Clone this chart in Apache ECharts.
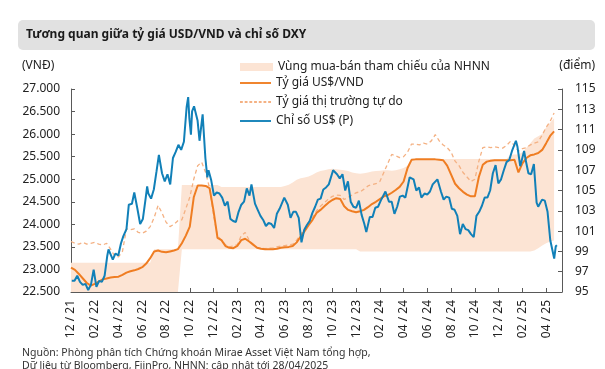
<!DOCTYPE html>
<html><head><meta charset="utf-8">
<script src="https://cdn.jsdelivr.net/npm/echarts@6/dist/echarts.min.js"></script>
<style>html,body{margin:0;padding:0;background:#fff}#c{width:605px;height:369px}</style>
</head><body><div id="c"></div>
<script>
// Categories: every ~10 days (1st, 11th, 21st) from 12/2021
const startYear = 2021, startMonth = 12, nCategories = 125;
const axisStart = '2021-12-01', axisEnd = '2025-05-11';
const tickLabelEvery = 6; // 2 months
// Official USD/VND rate (VND), one value per category
const usdVnd = [23040,22990,22900,22800,22700,22640,22680,22730,22780,22800,22820,22830,22840,22880,22930,22960,22980,23010,23050,23130,23250,23400,23420,23390,23380,23400,23420,23450,23580,23750,23950,24600,24860,24860,24850,24800,24300,23700,23650,23520,23480,23470,23520,23650,23680,23620,23550,23480,23460,23450,23450,23450,23460,23480,23490,23500,23520,23600,23730,23850,23980,24100,24250,24320,24400,24480,24540,24580,24560,24400,24320,24290,24270,24290,24320,24380,24450,24500,24560,24620,24650,24700,24760,24830,24950,25250,25430,25440,25440,25440,25440,25440,25440,25430,25420,25300,25100,24900,24800,24720,24660,24620,24620,25050,25320,25390,25410,25420,25420,25420,25420,25420,25430,25150,25350,25470,25530,25550,25580,25650,25800,25960,26060];
// Free market rate (VND), one value per category
const freeMarket = [23620,23580,23560,23600,23560,23580,23600,23560,23540,23580,23450,23300,23280,23400,23900,23880,23900,23820,23800,23850,23950,24150,24420,24250,24050,23950,24000,24080,24100,24350,24600,25000,25300,25380,25150,24800,24200,23750,23650,23550,23500,23520,23550,23750,23820,23650,23550,23480,23470,23460,23470,23480,23500,23520,23530,23540,23560,23650,23780,23900,24050,24150,24300,24400,24480,24560,24620,24650,24640,24550,24600,24650,24700,24720,24780,24850,24880,24900,24950,25150,25350,25550,25520,25480,25500,25600,25780,25780,25760,25800,25780,25850,25990,25850,25760,25700,25600,25400,25300,25150,25050,24950,25000,25400,25700,25720,25700,25720,25700,25690,25750,25840,25750,25620,25680,25700,25760,25800,25830,25980,26150,26280,26470];
// SBV reference band (VND), one value per category
const bandLower = [22500,22500,22500,22500,22500,22500,22500,22500,22500,22500,22500,22500,22500,22500,22500,22500,22500,22500,22500,22500,22500,22500,22500,22500,22500,22500,22500,22500,23450,23450,23450,23450,23450,23450,23450,23450,23450,23450,23450,23450,23450,23450,23450,23450,23450,23450,23450,23450,23450,23450,23450,23450,23450,23450,23450,23450,23450,23450,23450,23450,23450,23450,23450,23450,23450,23450,23450,23450,23450,23450,23450,23450,23450,23400,23400,23400,23400,23400,23400,23400,23400,23400,23400,23400,23400,23400,23400,23400,23400,23400,23400,23400,23400,23400,23400,23400,23400,23400,23400,23400,23400,23400,23400,23400,23400,23400,23400,23400,23400,23400,23400,23400,23400,23400,23400,23400,23400,23420,23470,23530,23580,23620,23640,23660];
const bandUpper = [23150,23150,23150,23150,23150,23150,23150,23150,23150,23150,23150,23150,23150,23150,23150,23150,23150,23150,23150,23150,23150,23450,23450,23450,23450,23450,23450,23450,24870,24870,24870,24870,24870,24870,24870,24870,24870,24870,24830,24830,24830,24830,24830,24830,24830,24830,24830,24830,24830,24830,24830,24830,24830,24830,24850,24880,24930,24990,25020,25040,25060,25100,25150,25180,25200,25220,25230,25220,25210,25200,25180,25150,25130,25120,25130,25150,25170,25180,25190,25200,25200,25190,25200,25220,25250,25300,25450,25450,25450,25450,25450,25450,25450,25450,25450,25450,25450,25450,25450,25450,25450,25450,25450,25450,25450,25450,25450,25450,25450,25450,25450,25550,25550,25550,25600,25700,25800,25900,25950,26000,26150,26250,26350];
// DXY index (points), dated observations
const dxyDates = ['2021-12-03','2021-12-10','2021-12-17','2021-12-24','2021-12-31','2022-01-07','2022-01-14','2022-01-21','2022-01-28','2022-02-04','2022-02-11','2022-02-18','2022-02-25','2022-03-04','2022-03-07','2022-03-11','2022-03-18','2022-03-25','2022-04-01','2022-04-08','2022-04-14','2022-04-22','2022-04-28','2022-05-06','2022-05-12','2022-05-20','2022-05-27','2022-06-03','2022-06-10','2022-06-14','2022-06-17','2022-06-24','2022-07-01','2022-07-08','2022-07-14','2022-07-22','2022-07-29','2022-08-05','2022-08-12','2022-08-19','2022-08-26','2022-09-02','2022-09-09','2022-09-16','2022-09-23','2022-09-27','2022-09-30','2022-10-04','2022-10-07','2022-10-12','2022-10-21','2022-10-26','2022-11-03','2022-11-10','2022-11-15','2022-11-18','2022-11-25','2022-12-02','2022-12-09','2022-12-16','2022-12-23','2022-12-30','2023-01-06','2023-01-13','2023-01-20','2023-01-27','2023-02-03','2023-02-10','2023-02-17','2023-02-24','2023-03-03','2023-03-08','2023-03-17','2023-03-24','2023-03-31','2023-04-07','2023-04-14','2023-04-21','2023-04-28','2023-05-05','2023-05-12','2023-05-19','2023-05-31','2023-06-09','2023-06-16','2023-06-23','2023-06-30','2023-07-07','2023-07-14','2023-07-21','2023-07-28','2023-08-04','2023-08-11','2023-08-18','2023-08-25','2023-09-01','2023-09-08','2023-09-15','2023-09-22','2023-10-03','2023-10-13','2023-10-20','2023-10-27','2023-11-03','2023-11-10','2023-11-17','2023-11-24','2023-12-01','2023-12-08','2023-12-15','2023-12-22','2023-12-27','2024-01-05','2024-01-12','2024-01-19','2024-01-26','2024-02-02','2024-02-14','2024-02-23','2024-03-01','2024-03-08','2024-03-15','2024-03-22','2024-03-29','2024-04-05','2024-04-16','2024-04-26','2024-05-03','2024-05-10','2024-05-16','2024-05-24','2024-05-31','2024-06-07','2024-06-14','2024-06-26','2024-07-05','2024-07-12','2024-07-19','2024-07-26','2024-08-02','2024-08-09','2024-08-16','2024-08-23','2024-08-30','2024-09-06','2024-09-13','2024-09-20','2024-09-27','2024-10-04','2024-10-11','2024-10-18','2024-10-25','2024-11-01','2024-11-08','2024-11-15','2024-11-22','2024-11-29','2024-12-06','2024-12-13','2024-12-20','2024-12-27','2025-01-03','2025-01-13','2025-01-17','2025-01-24','2025-02-03','2025-02-07','2025-02-14','2025-02-21','2025-02-28','2025-03-07','2025-03-11','2025-03-21','2025-03-28','2025-04-04','2025-04-11','2025-04-21','2025-04-25','2025-04-28'];
const dxyValues = [96.1,96.1,96.6,96.0,95.7,95.8,95.2,95.7,97.2,95.5,96.1,96.0,96.6,98.6,99.2,99.1,98.2,98.8,98.6,99.8,100.5,101.2,103.6,103.7,104.8,103.2,101.7,102.2,104.2,105.4,104.7,104.2,105.1,106.9,108.5,106.7,105.9,106.6,105.6,108.2,108.8,109.5,109.0,109.8,113.2,114.2,112.1,110.5,112.8,113.3,111.9,109.9,112.5,108.2,106.3,107.0,106.0,104.5,104.8,104.7,104.3,103.5,103.9,102.2,102.0,101.9,102.9,103.6,103.9,105.2,104.5,105.6,103.7,103.1,102.5,102.1,101.5,101.8,101.7,101.3,102.7,103.2,104.3,103.6,102.3,102.9,102.9,102.3,99.9,101.1,101.6,102.0,102.8,103.4,104.1,104.2,105.1,105.3,105.6,107.0,106.6,106.2,106.6,105.0,105.9,103.9,103.4,103.3,104.0,102.6,101.7,100.9,102.4,102.4,103.3,103.4,104.0,104.9,103.9,103.9,102.7,103.4,104.4,104.5,104.3,106.3,106.1,105.0,105.3,104.3,104.7,104.6,104.9,105.6,106.1,104.9,104.1,104.4,104.3,103.2,103.1,102.5,100.7,101.7,101.2,101.1,100.7,100.4,102.5,102.9,103.5,104.3,104.3,105.0,106.7,107.5,105.7,106.1,107.0,107.8,108.0,108.9,109.9,109.3,107.4,108.9,108.0,106.7,106.6,107.6,103.8,103.4,104.1,104.0,102.9,100.1,98.3,99.5,99.6];
const leftTicks = {min: 22500, max: 27000, step: 500};
const rightTicks = {min: 95, max: 115, step: 2};

const categories = [];
for (let k = 0; k < nCategories; k++) {
  const mIdx = Math.floor(k / 3);
  const day = [1, 11, 21][k % 3];
  let m = startMonth + mIdx, y = startYear;
  while (m > 12) { m -= 12; y += 1; }
  categories.push(y + '-' + String(m).padStart(2, '0') + '-' + String(day).padStart(2, '0'));
}
const bandWidth = bandUpper.map((u, k) => u - bandLower[k]);
const dxyData = dxyDates.map((d, k) => [d, dxyValues[k]]);

const FONT = '"Noto Sans", "Open Sans", sans-serif';
const BLUE = '#1180b8', ORANGE = '#ef7d22', DASH = '#f4b183', BAND = '#fce4d4', AXIS = '#595959';
const SOLID_ICON = 'path://M0,0H33V2H0Z';
const DASH_ICON = 'path://M0,0H3V2H0Z M5,0H8V2H5Z M10,0H13V2H10Z M15,0H18V2H15Z M20,0H23V2H20Z M25,0H28V2H25Z M30,0H33V2H30Z';

const chart = echarts.init(document.getElementById('c'), null, {renderer: 'canvas'});
chart.setOption({
  animation: false,
  textStyle: {fontFamily: FONT},
  grid: {left: 71, right: 43, top: 89, bottom: 77, containLabel: false},
  graphic: [
    {type: 'rect', shape: {x: 18, y: 20, width: 577, height: 30, r: 5}, style: {fill: '#e1e1e1'}, z: 0},
    {type: 'text', x: 26, y: 35, style: {text: 'Tương quan giữa tỷ giá USD/VND và chỉ số DXY', font: 'bold 12px ' + FONT, fill: '#1a1a1a', textVerticalAlign: 'middle'}},
    {type: 'text', x: 22, y: 66, style: {text: '(VNĐ)', font: '12px ' + FONT, fill: '#222', textVerticalAlign: 'middle'}},
    {type: 'text', x: 595, y: 66, style: {text: '(điểm)', font: '12px ' + FONT, fill: '#222', textAlign: 'right', textVerticalAlign: 'middle'}},
    {type: 'text', x: 22, y: 353, style: {text: 'Nguồn: Phòng phân tích Chứng khoán Mirae Asset Việt Nam tổng hợp,', font: '10.5px ' + FONT, fill: '#333', textVerticalAlign: 'middle'}},
    {type: 'text', x: 22, y: 366, style: {text: 'Dữ liệu từ Bloomberg, FiinPro, NHNN; cập nhật tới 28/04/2025', font: '10.5px ' + FONT, fill: '#333', textVerticalAlign: 'middle'}}
  ],
  legend: [
    {
      orient: 'vertical', left: 240, top: 60, itemWidth: 33, itemHeight: 8, itemGap: 5, padding: 0,
      textStyle: {fontSize: 12, color: '#222', lineHeight: 14, fontFamily: FONT},
      data: [{name: 'Vùng mua-bán tham chiếu của NHNN', icon: 'rect', itemStyle: {color: BAND}}]
    },
    {
      orient: 'vertical', left: 240, top: 76, itemWidth: 31, itemHeight: 2, itemGap: 5, padding: 0,
      textStyle: {fontSize: 12, color: '#222', lineHeight: 14, fontFamily: FONT},
      data: [
        {name: 'Tỷ giá US$/VND', icon: SOLID_ICON},
        {name: 'Tỷ giá thị trường tự do', icon: DASH_ICON},
        {name: 'Chỉ số US$ (P)', icon: SOLID_ICON}
      ]
    }
  ],
  xAxis: [
    {
      type: 'category', data: categories, boundaryGap: false,
      axisLine: {lineStyle: {color: AXIS, width: 1}},
      axisTick: {interval: tickLabelEvery - 1, inside: true, length: 4, lineStyle: {color: AXIS}},
      axisLabel: {
        interval: tickLabelEvery - 1, rotate: 90, fontSize: 12, color: '#222', margin: 8, fontFamily: FONT,
        formatter: v => v.slice(5, 7) + ' / ' + v.slice(2, 4)
      },
      splitLine: {show: false}
    },
    {type: 'time', min: axisStart, max: axisEnd, show: false, splitLine: {show: false}}
  ],
  yAxis: [
    {
      type: 'value', min: leftTicks.min, max: leftTicks.max, interval: leftTicks.step,
      axisLine: {show: true, lineStyle: {color: AXIS}},
      axisTick: {show: true, inside: true, length: 4, lineStyle: {color: AXIS}},
      axisLabel: {fontSize: 12, color: '#222', margin: 11, fontFamily: FONT,
        formatter: v => String(v).replace(/\B(?=(\d{3})+(?!\d))/g, '.')},
      splitLine: {show: false}
    },
    {
      type: 'value', min: rightTicks.min, max: rightTicks.max, interval: rightTicks.step,
      axisLine: {show: true, lineStyle: {color: AXIS}},
      axisTick: {show: true, inside: true, length: 4, lineStyle: {color: AXIS}},
      axisLabel: {fontSize: 12, color: '#222', margin: 13, fontFamily: FONT},
      splitLine: {show: false}
    }
  ],
  series: [
    {name: 'bandBase', type: 'line', stack: 'band', data: bandLower, symbol: 'none', silent: true,
      lineStyle: {opacity: 0}, z: 1},
    {name: 'Vùng mua-bán tham chiếu của NHNN', type: 'line', stack: 'band', data: bandWidth, symbol: 'none', silent: true,
      itemStyle: {color: BAND}, lineStyle: {opacity: 0, width: 0}, areaStyle: {color: BAND, opacity: 1}, z: 1},
    {name: 'Tỷ giá thị trường tự do', type: 'line', data: freeMarket, symbol: 'none',
      itemStyle: {color: DASH}, lineStyle: {color: DASH, width: 1.3, type: [4, 3]}, z: 3},
    {name: 'Tỷ giá US$/VND', type: 'line', data: usdVnd, symbol: 'none',
      itemStyle: {color: ORANGE}, lineStyle: {color: ORANGE, width: 2}, z: 4},
    {name: 'Chỉ số US$ (P)', type: 'line', xAxisIndex: 1, yAxisIndex: 1, data: dxyData, symbol: 'none',
      itemStyle: {color: BLUE}, lineStyle: {color: BLUE, width: 2}, z: 5}
  ]
});
</script></body></html>
